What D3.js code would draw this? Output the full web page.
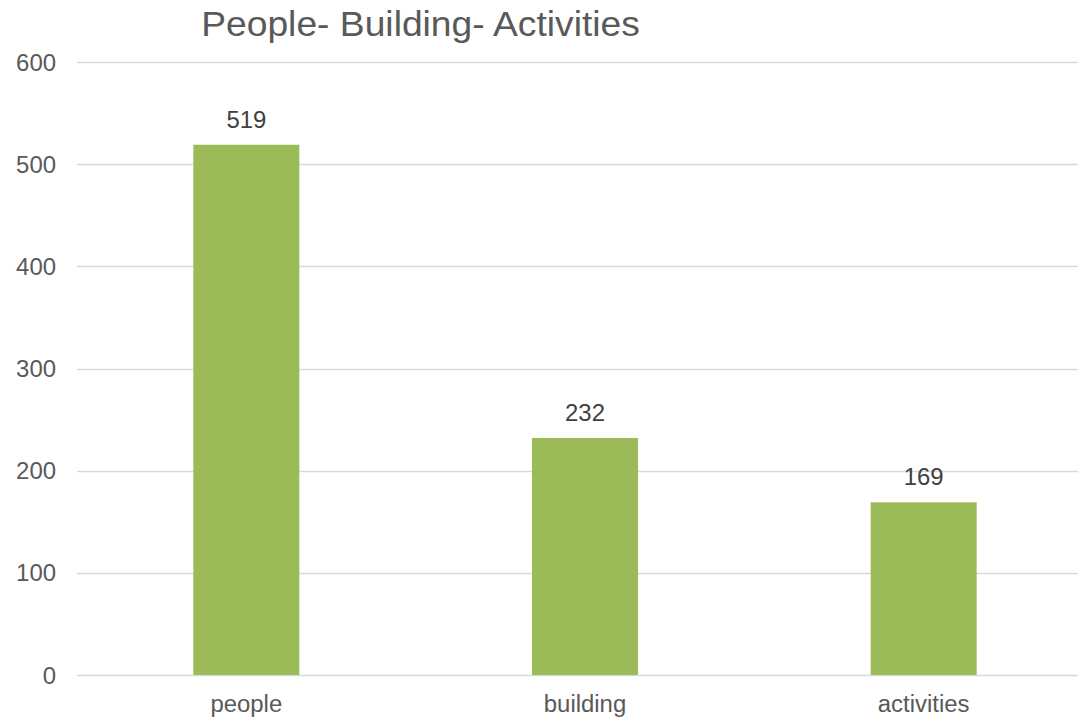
<!DOCTYPE html>
<html>
<head>
<meta charset="utf-8">
<script src="https://cdn.jsdelivr.net/npm/d3@7"></script>
<style>
  html, body { margin: 0; padding: 0; background: #fff; }
  svg { display: block; font-family: "Liberation Sans", Arial, sans-serif; }
</style>
</head>
<body>
<svg id="chart" width="1078" height="718"></svg>
<script>
const title = "People- Building- Activities";
const categories = ["people", "building", "activities"];
const values = [519, 232, 169];
const yTicks = [0, 100, 200, 300, 400, 500, 600];

const W = 1078, H = 718;
const plot = { left: 77, right: 1093, top: 62, bottom: 675 };
const sx = 1.04; // slight horizontal stretch of text in reference

const svg = d3.select("#chart");

const x = d3.scaleBand()
  .domain(categories)
  .range([plot.left, plot.right])
  .paddingInner(0.687)
  .paddingOuter(0.3435);

const y = d3.scaleLinear()
  .domain([0, 600])
  .range([plot.bottom, plot.top]);

// gridlines
svg.append("g")
  .selectAll("line")
  .data(yTicks)
  .join("line")
  .attr("x1", plot.left)
  .attr("x2", plot.right)
  .attr("y1", d => Math.round(y(d)) + 0.5)
  .attr("y2", d => Math.round(y(d)) + 0.5)
  .attr("stroke", "#d9d9d9")
  .attr("stroke-width", 1.3);

// y tick labels
svg.append("g")
  .selectAll("text")
  .data(yTicks)
  .join("text")
  .attr("transform", d => `translate(56,${y(d) + 8.5}) scale(${sx},1)`)
  .attr("text-anchor", "end")
  .attr("font-size", 23)
  .attr("fill", "#595959")
  .text(d => d);

// bars
svg.append("g")
  .selectAll("rect")
  .data(categories)
  .join("rect")
  .attr("x", d => x(d))
  .attr("width", x.bandwidth())
  .attr("y", (d, i) => y(values[i]))
  .attr("height", (d, i) => y(0) - y(values[i]))
  .attr("fill", "#9bbb59");

// value labels
svg.append("g")
  .selectAll("text")
  .data(categories)
  .join("text")
  .attr("transform", (d, i) => `translate(${x(d) + x.bandwidth() / 2},${y(values[i]) - 17}) scale(${sx},1)`)
  .attr("text-anchor", "middle")
  .attr("font-size", 23)
  .attr("fill", "#404040")
  .text((d, i) => values[i]);

// category labels
svg.append("g")
  .selectAll("text")
  .data(categories)
  .join("text")
  .attr("transform", d => `translate(${x(d) + x.bandwidth() / 2},712) scale(${sx},1)`)
  .attr("text-anchor", "middle")
  .attr("font-size", 23)
  .attr("fill", "#595959")
  .text(d => d);

// title
svg.append("text")
  .attr("transform", `translate(420.5,36) scale(${sx},1)`)
  .attr("text-anchor", "middle")
  .attr("font-size", 35.8)
  .attr("fill", "#595959")
  .text(title);
</script>
</body>
</html>
